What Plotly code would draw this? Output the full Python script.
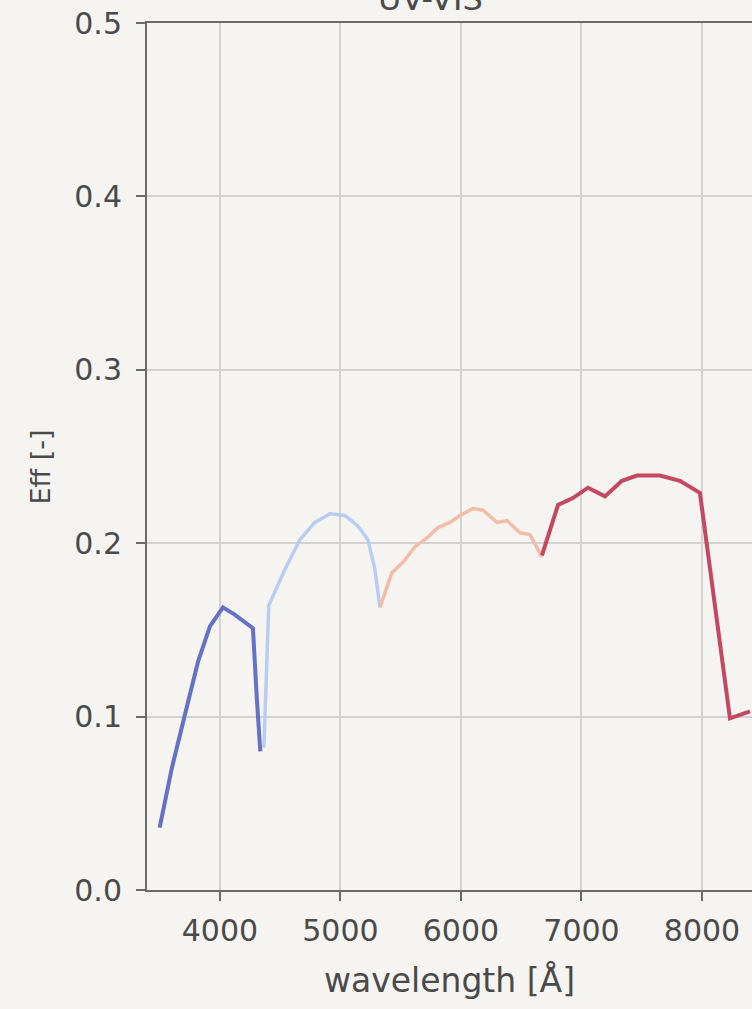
import plotly.graph_objects as go

# Efficiency curves of the four UV-VIS arms (wavelength in Angstrom)
wl_arm1 = [3500, 3600, 3734, 3820, 3917, 4025, 4120, 4274, 4305, 4335]
eff_arm1 = [0.036, 0.070, 0.108, 0.132, 0.152, 0.163, 0.159, 0.151, 0.112, 0.080]

wl_arm2 = [4365, 4405, 4540, 4664, 4788, 4913, 5037, 5145, 5228, 5286, 5328]
eff_arm2 = [0.082, 0.164, 0.185, 0.202, 0.212, 0.217, 0.216, 0.210, 0.202, 0.185, 0.163]

wl_arm3 = [5328, 5427, 5519, 5618, 5718, 5809, 5909, 5992, 6100, 6183,
           6299, 6382, 6490, 6573, 6672]
eff_arm3 = [0.163, 0.183, 0.189, 0.198, 0.203, 0.209, 0.212, 0.216, 0.220, 0.219,
            0.212, 0.213, 0.206, 0.205, 0.192]

wl_arm4 = [6672, 6805, 6929, 7054, 7195, 7336, 7461, 7651, 7817, 7983, 8232, 8398]
eff_arm4 = [0.193, 0.222, 0.226, 0.232, 0.227, 0.236, 0.239, 0.239, 0.236, 0.229,
            0.099, 0.103]

arms = [
    (wl_arm1, eff_arm1, "#6570c6", 4),
    (wl_arm2, eff_arm2, "#b9cdf2", 3.5),
    (wl_arm3, eff_arm3, "#f2bca8", 3.5),
    (wl_arm4, eff_arm4, "#c54862", 4),
]

x_ticks = [4000, 5000, 6000, 7000, 8000]
y_ticks = [0.0, 0.1, 0.2, 0.3, 0.4, 0.5]

FONT = "DejaVu Sans"
TXT = "#4a4a4a"
BG = "#f5f4f1"

fig = go.Figure()
for wl, eff, col, lw in arms:
    fig.add_trace(go.Scatter(x=wl, y=eff, mode="lines",
                             line=dict(color=col, width=lw), showlegend=False))

axis_common = dict(
    showgrid=True, gridcolor="#d2d2d0", gridwidth=2,
    showline=True, linecolor="#6a6a6a", linewidth=2,
    ticks="outside", ticklen=9, tickwidth=2, tickcolor="#6a6a6a",
    tickfont=dict(family=FONT, size=30, color=TXT),
    zeroline=False,
)

fig.update_xaxes(
    **axis_common, range=[3395, 8415], tickvals=x_ticks,
    ticktext=[str(v) for v in x_ticks], mirror=True, ticklabelstandoff=4,
    title=dict(text="wavelength [Å]", font=dict(family=FONT, size=33, color=TXT),
               standoff=22),
)
fig.update_yaxes(
    **axis_common, range=[0, 0.5], tickvals=y_ticks,
    ticktext=[f"{v:.1f}" for v in y_ticks], ticklabelstandoff=8,
)

# y-axis label, placed as a rotated annotation left of the tick labels
fig.add_annotation(text="Eff [-]", xref="paper", yref="paper", x=0, y=0.5,
                   xanchor="center", yanchor="middle", xshift=-107, yshift=-11,
                   textangle=-90, showarrow=False,
                   font=dict(family=FONT, size=27, color=TXT))

fig.add_annotation(text="UV-VIS", xref="paper", yref="paper", x=0.468, y=1,
                   xanchor="center", yanchor="bottom", yshift=3, showarrow=False,
                   font=dict(family=FONT, size=32, color=TXT))

fig.update_layout(
    width=752, height=1009,
    margin=dict(l=147, r=0, t=23, b=119),
    paper_bgcolor=BG, plot_bgcolor=BG,
)

fig.write_html("out.html")
